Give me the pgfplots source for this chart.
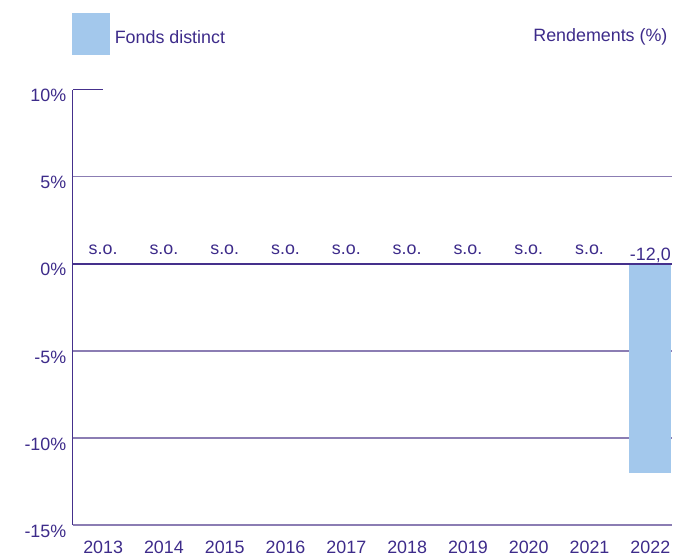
\documentclass[border=0pt]{standalone}
\usepackage{pgfplots}
\pgfplotsset{compat=1.18}
\usepackage{fontspec}
\setmainfont{Liberation Sans}
\definecolor{txt}{HTML}{3D2B8A}
\definecolor{axisc}{HTML}{45308C}
\definecolor{gridc}{HTML}{8B7DB3}
\definecolor{barc}{HTML}{A3C8EC}
\newcommand{\lbl}{\fontsize{18}{21}\selectfont}

\begin{document}
\begin{tikzpicture}[x=1bp,y=1bp]
\begin{axis}[
  scale only axis,
  width=601bp, height=437bp,
  xmin=-0.5, xmax=9.35,
  ymin=-15, ymax=10,
  xtick={0,...,9},
  xticklabels={2013,2014,2015,2016,2017,2018,2019,2020,2021,2022},
  ytick={-15,-10,-5,0,5,10},
  yticklabels={-15\%,-10\%,-5\%,0\%,5\%,10\%},
  extra y ticks={-10,-5,5},
  extra y tick labels={},
  extra y tick style={grid=major, major grid style={gridc, line width=1.3pt}},
  major tick length=0pt,
  axis x line*=bottom, axis y line*=left,
  axis line style={-, axisc, line width=1.3pt},
  x axis line style={gridc},
  ticklabel style={font=\lbl, text=txt},
  /pgf/number format/assume math mode=true,
  yticklabel style={xshift=-3bp, yshift=-6bp},
  xticklabel style={yshift=-12bp},
  clip=false,
]
\addplot[ybar, bar width=0.69, fill=barc, draw=none] coordinates {(9,-12.0)};
\draw[axisc, line width=1.3pt] (axis cs:-0.5,0) -- (axis cs:9.35,0);
\draw[axisc, line width=1.3pt] (axis cs:-0.5,10) -- (axis cs:0,10);
\addplot[draw=none, mark=none, nodes near coords={\pgfplotspointmeta},
  point meta=explicit symbolic,
  every node near coord/.append style={anchor=base, yshift=9bp, text=txt, font=\lbl}]
  table[meta=lab] {
x y lab
0 0 s.o.
1 0 s.o.
2 0 s.o.
3 0 s.o.
4 0 s.o.
5 0 s.o.
6 0 s.o.
7 0 s.o.
8 0 s.o.
};
\addplot[draw=none, mark=none, nodes near coords={\pgfplotspointmeta},
  point meta=explicit symbolic,
  every node near coord/.append style={anchor=base, yshift=3bp, text=txt, font=\lbl}]
  table[meta=lab] {
x y lab
9 0 -12,0
};
\end{axis}
% legend and title
\fill[barc] (-1bp,472bp) rectangle (37bp,514bp);
\node[anchor=west, text=txt, font=\lbl, inner sep=0pt] at (42bp,490bp) {Fonds distinct};
\node[anchor=east, text=txt, font=\lbl, inner sep=0pt] at (597bp,490bp) {Rendements (\%)};
\path (-73bp,-30bp) rectangle (601bp,527bp);
\end{tikzpicture}
\end{document}
